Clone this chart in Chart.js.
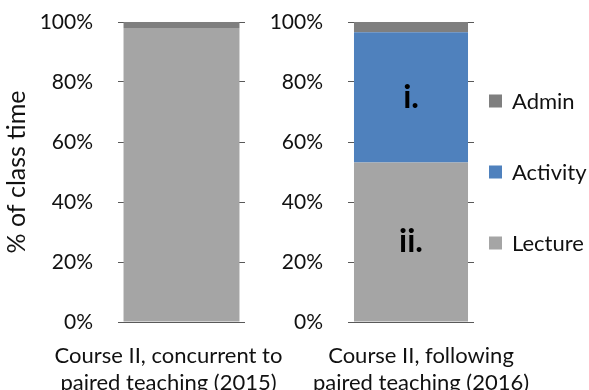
<!DOCTYPE html>
<html>
<head>
<meta charset="utf-8">
<script src="https://cdn.jsdelivr.net/npm/chart.js@4.4.1/dist/chart.umd.min.js"></script>
<style>
  html, body { margin: 0; padding: 0; background: #fff; }
  #wrap { position: relative; width: 589px; height: 390px; overflow: hidden; background: #fff; }
  canvas { position: absolute; top: 0; }
  #c1 { left: 0; }
  #c2 { left: 260px; }
</style>
</head>
<body>
<div id="wrap">
  <canvas id="c1" width="300" height="390"></canvas>
  <canvas id="c2" width="329" height="390"></canvas>
</div>
<script>
// Course offerings (one panel each)
const categories = [
  ['Course II, concurrent to', 'paired teaching (2015)'],
  ['Course II, following', 'paired teaching (2016)']
];
// Share of class time, percent
const seriesNames = ['Lecture', 'Activity', 'Admin'];
const lecture  = [98, 53.2];
const activity = [0, 43.4];
const admin    = [2, 3.4];
// Segment tags printed inside the bars
const segmentTags = {
  Lecture:  ['', 'ii.'],
  Activity: ['', 'i.'],
  Admin:    ['', '']
};
const percentTicks = [0, 20, 40, 60, 80, 100];

const seriesValues = { Lecture: lecture, Activity: activity, Admin: admin };
const seriesColors = { Lecture: '#A5A5A5', Activity: '#4F81BD', Admin: '#7F7F7F' };

const FONT = 'Lato, "Open Sans", sans-serif';
const TEXT = '#111';

// Legend stacked on the right side of the chart area
const sideLegend = {
  id: 'sideLegend',
  afterDraw(chart, args, o) {
    if (!o.show) return;
    const { ctx, chartArea } = chart;
    const items = chart.data.datasets.slice().reverse();
    const mid = (chartArea.top + chartArea.bottom) / 2;
    ctx.save();
    items.forEach((d, i) => {
      const y = mid + (i - 1) * o.spacing;
      const x = chartArea.right + o.gap;
      ctx.fillStyle = d.backgroundColor;
      ctx.fillRect(x, y - o.box / 2, o.box, o.box);
      ctx.fillStyle = TEXT;
      ctx.font = '22px ' + FONT;
      ctx.textAlign = 'left';
      ctx.textBaseline = 'middle';
      ctx.fillText(d.label, x + o.box + o.textGap, y + 1);
    });
    ctx.restore();
  }
};

// Bold tags centred in their bar segments
const segmentLabels = {
  id: 'segmentLabels',
  afterDatasetsDraw(chart, args, o) {
    const { ctx } = chart;
    ctx.save();
    ctx.font = 'bold 32px ' + FONT;
    ctx.fillStyle = '#000';
    ctx.textAlign = 'center';
    ctx.textBaseline = 'middle';
    chart.data.datasets.forEach((d, i) => {
      const tag = segmentTags[d.label][o.index];
      if (!tag) return;
      const el = chart.getDatasetMeta(i).data[0];
      ctx.fillText(tag, el.x, (el.y + el.base) / 2);
    });
    ctx.restore();
  }
};

function makePanel(id, idx, cfg) {
  return new Chart(document.getElementById(id), {
    type: 'bar',
    data: {
      labels: [categories[idx]],
      datasets: seriesNames.map(name => ({
        label: name,
        data: [seriesValues[name][idx]],
        backgroundColor: seriesColors[name],
        borderWidth: 0,
        categoryPercentage: 1,
        barPercentage: cfg.barPct
      }))
    },
    plugins: [sideLegend, segmentLabels],
    options: {
      responsive: false,
      animation: false,
      layout: { padding: { top: 22, right: cfg.padRight, left: 0, bottom: 0 } },
      plugins: {
        legend: { display: false },
        tooltip: { enabled: false },
        sideLegend: { show: cfg.legend, spacing: 71, gap: 15, box: 13, textGap: 10 },
        segmentLabels: { index: idx }
      },
      scales: {
        x: {
          stacked: true,
          grid: { display: false, drawTicks: false },
          border: { display: false },
          ticks: {
            color: TEXT,
            font: { family: FONT, size: 22, lineHeight: '27px' },
            padding: 20,
            labelOffset: cfg.labelOffset,
            maxRotation: 0,
            autoSkip: false
          },
          afterFit(s) { s.height = 68; s.paddingLeft = 0; s.paddingRight = 0; }
        },
        y: {
          stacked: true,
          min: 0,
          max: 100,
          afterBuildTicks(s) { s.ticks = percentTicks.map(v => ({ value: v })); },
          ticks: {
            color: TEXT,
            font: { family: FONT, size: 21 },
            padding: 25,
            callback: v => v + '%'
          },
          grid: { color: '#595959', lineWidth: 1, drawTicks: false },
          border: { display: false },
          title: {
            display: cfg.title,
            text: '% of class time',
            color: TEXT,
            font: { family: FONT, size: 25 },
            padding: { top: 2, bottom: 0 }
          },
          afterFit(s) { s.width = cfg.axisWidth; s.paddingTop = 0; s.paddingBottom = 0; }
        }
      }
    }
  });
}

makePanel('c1', 0, { axisWidth: 118, padRight: 55, barPct: 0.913, labelOffset: -13, legend: false, title: true });
makePanel('c2', 1, { axisWidth: 88, padRight: 115, barPct: 0.905, labelOffset: 10, legend: true, title: false });
</script>
</body>
</html>
